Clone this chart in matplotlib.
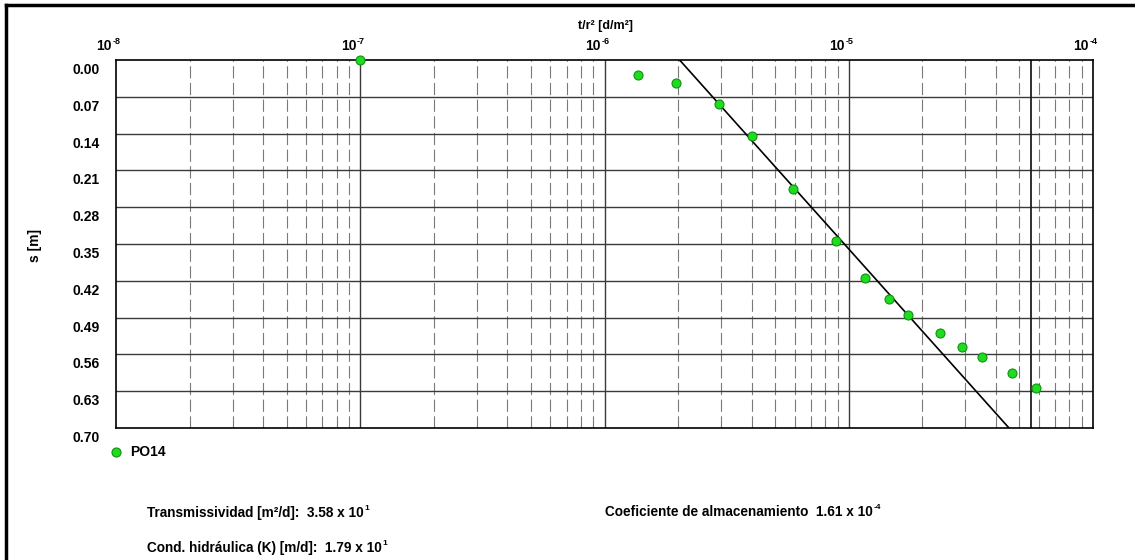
import numpy as np
import matplotlib
matplotlib.use("Agg")
import matplotlib.pyplot as plt
import matplotlib.transforms as mtransforms
from matplotlib.lines import Line2D

plt.rcParams['font.family'] = ['Liberation Sans', 'DejaVu Sans']
plt.rcParams['font.weight'] = 'bold'

# ---- data ----
t_r2 = [1.0e-7, 1.37e-6, 1.97e-6, 2.95e-6, 4.0e-6, 5.9e-6, 8.85e-6,
        1.17e-5, 1.46e-5, 1.75e-5, 2.36e-5, 2.9e-5, 3.51e-5, 4.66e-5, 5.84e-5]
s_obs = [0.000, 0.028, 0.044, 0.084, 0.145, 0.245, 0.344,
         0.415, 0.455, 0.485, 0.519, 0.546, 0.565, 0.595, 0.624]
fit_x = [2.03e-6, 4.53e-5]
fit_s = [0.00, 0.70]
vline_x = 5.6e-5
x_decades = [1e-8, 1e-7, 1e-6, 1e-5, 1e-4]
x_tick_exps = ['-8', '-7', '-6', '-5', '-4']
y_ticks = [0.00, 0.07, 0.14, 0.21, 0.28, 0.35, 0.42, 0.49, 0.56, 0.63, 0.70]
y_tick_labels = ['0.00', '0.07', '0.14', '0.21', '0.28', '0.35', '0.42',
                 '0.49', '0.56', '0.63', '0.70']
series_name = 'PO14'
info_T = ('Transmissividad [m²/d]:  3.58 x 10', '1')
info_K = ('Cond. hidráulica (K) [m/d]:  1.79 x 10', '1')
info_S = ('Coeficiente de almacenamiento  1.61 x 10', '-4')

W, H = 1135, 560
fig = plt.figure(figsize=(W / 100, H / 100), dpi=100)
L, R, T, B = 116, 1093, 60, 428
ax = fig.add_axes([L / W, 1 - B / H, (R - L) / W, (B - T) / H])
ax.set_xscale('log')
ax.set_xlim(x_decades[0], x_decades[-1])
ax.set_ylim(y_ticks[-1], y_ticks[0])

grid_major = '#3a3a3a'
grid_minor = '#7a7a7a'
for d in x_decades[:-1]:
    for k in range(2, 10):
        ax.axvline(d * k, color=grid_minor, lw=0.8, ls=(0, (11, 4)), zorder=1)
for d in x_decades[1:-1]:
    ax.axvline(d, color=grid_major, lw=1.0, zorder=1)
for y in y_ticks[1:-1]:
    ax.axhline(y, color=grid_major, lw=1.0, zorder=1)
ax.axvline(vline_x, color='#202020', lw=1.3, zorder=2)

ax.plot(fit_x, fit_s, color='black', lw=1.2, zorder=3)
ax.scatter(t_r2, s_obs, s=42, facecolor='#1edc1e', edgecolor='#119011',
           linewidths=0.8, zorder=5, clip_on=False)

ax.set_xticks([])
ax.set_yticks([])
ax.minorticks_off()
for sp in ax.spines.values():
    sp.set_color('black')
    sp.set_linewidth(1.2)


def sup_text(base_artist, exp, size=6.5):
    return fig.add_artist(matplotlib.text.Annotation(
        exp, xy=(1.0, 1.0), xycoords=base_artist, xytext=(0.5, -1.5),
        textcoords='offset points', ha='left', va='center',
        fontsize=size, fontweight='bold'))


# x tick labels at top: "10" + small exponent
for xv, ex in zip(x_decades, x_tick_exps):
    tr = ax.get_xaxis_transform() + mtransforms.ScaledTranslation(-4 / 100, 14 / 100, fig.dpi_scale_trans)
    t = ax.text(xv, 1.0, '10', transform=tr, ha='right', va='center', fontsize=10, fontweight='bold')
    sup_text(t, ex, 6.5)
# y tick labels
for yv, lab in zip(y_ticks, y_tick_labels):
    tr = ax.get_yaxis_transform() + mtransforms.ScaledTranslation(-16 / 100, -10 / 100, fig.dpi_scale_trans)
    ax.text(0.0, yv, lab, transform=tr, ha='right', va='center', fontsize=10, fontweight='bold')

fig.text(605 / W, 1 - 26 / H, 't/r² [d/m²]', ha='center', va='center', fontsize=9, fontweight='bold')
fig.text(35 / W, 1 - 245 / H, 's [m]', ha='center', va='center', rotation=90, fontsize=10, fontweight='bold')

# legend
fig.add_artist(Line2D([116 / W], [1 - 452 / H], marker='o', ls='none', markersize=6.5,
                      markerfacecolor='#1edc1e', markeredgecolor='#119011', markeredgewidth=0.8))
fig.text(130 / W, 1 - 452 / H, series_name, ha='left', va='center', fontsize=10, fontweight='bold')

for (base, ex), (px, py) in zip([info_T, info_K, info_S], [(147, 513), (147, 548), (605, 512)]):
    t = fig.text(px / W, 1 - py / H, base, ha='left', va='center', fontsize=9.8, fontweight='bold')
    sup_text(t, ex, 6.0)

# outer frame (top and left only, image is cropped)
fig.add_artist(Line2D([6 / W, 6 / W], [0, 1 - 5 / H], color='black', lw=2.5))
fig.add_artist(Line2D([6 / W, 1], [1 - 5 / H, 1 - 5 / H], color='black', lw=2.5))

fig.savefig('out.png', dpi=100, facecolor='white')
